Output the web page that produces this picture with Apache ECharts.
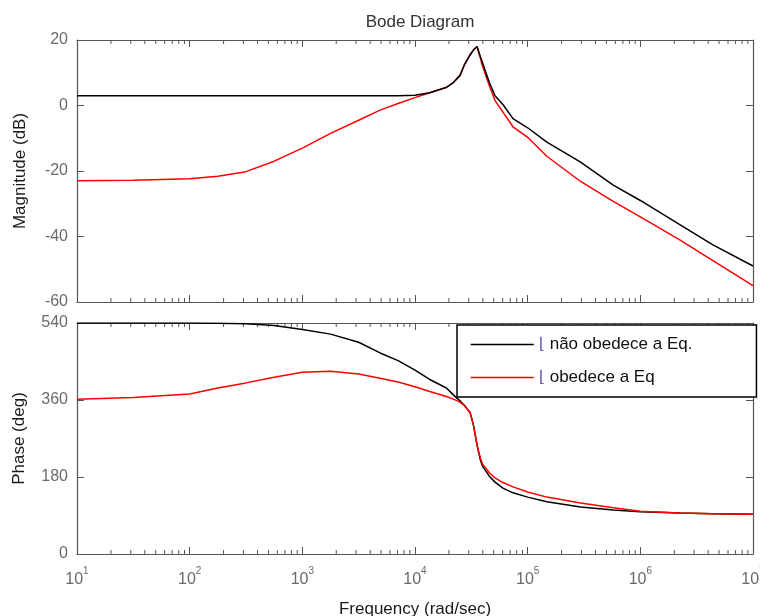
<!DOCTYPE html>
<html>
<head>
<meta charset="utf-8">
<script src="https://cdn.jsdelivr.net/npm/echarts@6/dist/echarts.min.js"></script>
<style>
  html, body { margin: 0; padding: 0; background: #fff; }
  #chart { width: 760px; height: 616px; }
</style>
</head>
<body>
<div id="chart"></div>
<script>
// frequency samples (rad/sec)
const freq = [10, 31.6, 100, 178, 316, 562, 1000, 1780, 3160, 4900, 7080, 10000, 13500, 19000, 21900, 25100, 27500, 30900, 33100, 35500, 38000, 39800, 45700, 51300, 60300, 74100, 100000, 148000, 295000, 575000, 1000000, 2240000, 4370000, 10000000]

// magnitude (dB)
const magBlack = [3, 3, 3, 3, 3, 3, 3, 3, 3, 3, 3, 3.1, 3.9, 5.5, 7, 9.2, 12.5, 15.5, 17, 18, 15, 13, 7, 3, 0.3, -4, -6.8, -11.2, -17.3, -24.3, -29, -36.4, -42.5, -49]
const magRed = [-23, -22.8, -22.4, -21.6, -20.2, -17, -13, -8.5, -4.5, -1.4, 0.6, 2.4, 3.9, 5.6, 7, 9.2, 12.5, 15.5, 17, 18, 14.5, 12, 6, 1.5, -2, -6.5, -9.7, -15.5, -23.2, -29.3, -34, -41, -47.3, -55]

// phase (deg)
const phaseBlack = [540, 540, 540, 539.5, 538, 534, 525, 514, 495, 470, 452, 430, 408, 388, 372, 358, 347, 330, 300, 255, 220, 205, 182, 168, 154, 143, 133, 122, 110, 103, 99, 96, 94, 93]
const phaseRed = [362, 366, 374, 388, 400, 413, 425, 427, 421, 411, 402, 391, 380, 368, 362, 355, 347, 330, 300, 255, 225, 210, 190, 178, 167, 157, 145, 133, 119, 108, 100, 96, 94, 93]

const seriesNames = ['não obedece a Eq.', 'obedece a Eq']
const magTicks = [-60, 20, 20]     // min, max, interval
const phaseTicks = [0, 540, 180]

// minor tick positions on the log axis: 2..9 x each decade
const decades = [10, 100, 1000, 10000, 100000, 1000000]
const minorMult = [2, 3, 4, 5, 6, 7, 8, 9]
const minorFreq = []
decades.forEach(d => minorMult.forEach(m => minorFreq.push(d * m)))

const zip = (xs, ys) => xs.map((x, i) => [x, ys[i]])

const FONT = 'Liberation Sans, Arial, sans-serif'
const AXIS_COLOR = '#555'
const LABEL_COLOR = '#6a6a6a'

const logAxis = (gridIndex, position, showLabel) => ({
  type: 'log',
  logBase: 10,
  gridIndex,
  position,
  min: 10,
  max: 1e7,
  splitNumber: 6,
  axisLine: { show: true, onZero: false, lineStyle: { color: AXIS_COLOR, width: 1.2 } },
  axisTick: { show: true, inside: true, length: 7, lineStyle: { color: AXIS_COLOR } },
  splitLine: { show: false },
  axisLabel: {
    show: showLabel,
    margin: 12,
    fontFamily: FONT,
    formatter: (v) => '{b|10}{e|' + Math.round(Math.log10(v)) + '}',
    rich: {
      b: { fontSize: 16, color: LABEL_COLOR, fontFamily: FONT, lineHeight: 22, verticalAlign: 'bottom' },
      e: { fontSize: 10, color: LABEL_COLOR, fontFamily: FONT, lineHeight: 10, verticalAlign: 'top' },
    },
  },
})

const valAxis = (gridIndex, position, ticks, showLabel, name, nameGap) => ({
  type: 'value',
  gridIndex,
  position,
  min: ticks[0],
  max: ticks[1],
  interval: ticks[2],
  name: name || '',
  nameLocation: 'middle',
  nameGap: nameGap || 0,
  nameTextStyle: { fontFamily: FONT, fontSize: 17, color: '#1a1a1a' },
  axisLine: { show: true, onZero: false, lineStyle: { color: AXIS_COLOR, width: 1.2 } },
  axisTick: { show: true, inside: true, length: 7, lineStyle: { color: AXIS_COLOR } },
  splitLine: { show: false },
  axisLabel: { show: showLabel, margin: 9, fontFamily: FONT, fontSize: 16, color: LABEL_COLOR },
})

const minorTickSeries = (xi, yi, ticks) => ({
  type: 'custom',
  xAxisIndex: xi,
  yAxisIndex: yi,
  silent: true,
  z: 3,
  data: minorFreq.map(f => [f, ticks[0]]),
  renderItem: (params, api) => {
    const bot = api.coord([api.value(0), ticks[0]])
    const top = api.coord([api.value(0), ticks[1]])
    const style = { stroke: AXIS_COLOR, lineWidth: 1 }
    return {
      type: 'group',
      children: [
        { type: 'line', shape: { x1: bot[0], y1: bot[1], x2: bot[0], y2: bot[1] - 4 }, style },
        { type: 'line', shape: { x1: top[0], y1: top[1], x2: top[0], y2: top[1] + 4 }, style },
      ],
    }
  },
})

const lineSeries = (name, xi, yi, data, color, z) => ({
  name,
  type: 'line',
  xAxisIndex: xi,
  yAxisIndex: yi,
  data,
  symbol: 'none',
  z,
  lineStyle: { color, width: 1.5 },
  itemStyle: { color },
})

const chart = echarts.init(document.getElementById('chart'))
chart.setOption({
  animation: false,
  backgroundColor: '#fff',
  title: {
    text: 'Bode Diagram',
    left: 415,
    textAlign: 'center',
    top: 9,
    textStyle: { fontFamily: FONT, fontSize: 17, fontWeight: 'normal', color: '#333' },
  },
  grid: [
    { left: 77, top: 40, width: 676, height: 262, containLabel: false, outerBoundsMode: 'none' },
    { left: 77, top: 323, width: 676, height: 231, containLabel: false, outerBoundsMode: 'none' },
  ],
  xAxis: [
    logAxis(0, 'bottom', false),
    logAxis(0, 'top', false),
    Object.assign(logAxis(1, 'bottom', true), {
      name: 'Frequency (rad/sec)',
      nameLocation: 'middle',
      nameGap: 47,
      nameTextStyle: { fontFamily: FONT, fontSize: 17, color: '#1a1a1a' },
    }),
    logAxis(1, 'top', false),
  ],
  yAxis: [
    valAxis(0, 'left', magTicks, true, 'Magnitude (dB)', 48),
    valAxis(0, 'right', magTicks, false),
    valAxis(1, 'left', phaseTicks, true, 'Phase (deg)', 49),
    valAxis(1, 'right', phaseTicks, false),
  ],
  legend: {
    data: seriesNames,
    orient: 'vertical',
    left: 457,
    top: 325,
    itemWidth: 63,
    itemHeight: 14,
    itemGap: 16,
    padding: [11, 64, 11, 13],
    backgroundColor: '#fff',
    borderColor: '#000',
    borderWidth: 1.5,
    borderRadius: 0,
    selectedMode: false,
    itemStyle: { opacity: 0 },
    lineStyle: { width: 1.5 },
    formatter: (name) => '{s|\u230A} ' + name,
    textStyle: {
      fontFamily: FONT,
      fontSize: 17,
      color: '#111',
      rich: {
        s: { fontFamily: 'DejaVu Sans', fontSize: 16, color: '#6a4fb0' },
      },
    },
  },
  series: [
    minorTickSeries(0, 0, magTicks),
    minorTickSeries(2, 2, phaseTicks),
    lineSeries(seriesNames[0], 0, 0, zip(freq, magBlack), '#000', 5),
    lineSeries(seriesNames[1], 0, 0, zip(freq, magRed), '#ff0000', 4),
    lineSeries(seriesNames[0], 2, 2, zip(freq, phaseBlack), '#000', 4),
    lineSeries(seriesNames[1], 2, 2, zip(freq, phaseRed), '#ff0000', 5),
  ],
})
</script>
</body>
</html>
